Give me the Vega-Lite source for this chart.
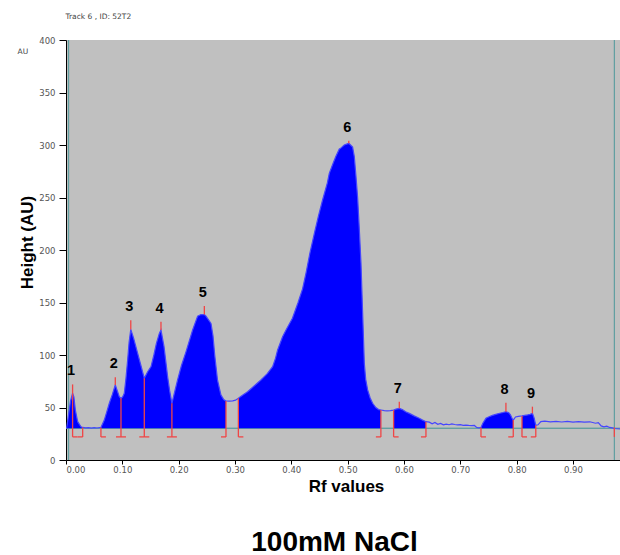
{
  "$schema": "https://vega.github.io/schema/vega-lite/v6.json",
  "width": 554,
  "height": 420,
  "autosize": {"type": "none"},
  "padding": {"left": 66, "top": 40, "right": 0, "bottom": 95},
  "background": "white",
  "config": {
    "view": {"fill": "#c0c0c0", "stroke": null},
    "axis": {"grid": false},
    "font": "Liberation Sans"
  },
  "datasets": {
    "trace": [
      {"rf": 0.001, "au": 30, "run": "A"},
      {"rf": 0.004, "au": 41, "run": "A"},
      {"rf": 0.008, "au": 56, "run": "A"},
      {"rf": 0.0117, "au": 63.5, "run": "A"},
      {"rf": 0.014, "au": 60, "run": "A"},
      {"rf": 0.0166, "au": 47.6, "run": "A"},
      {"rf": 0.0207, "au": 36.5, "run": "A"},
      {"rf": 0.0266, "au": 31.7, "run": "A"},
      {"rf": 0.0296, "au": 31, "run": "A"},
      {"rf": 0.035, "au": 30.6, "run": "gap"},
      {"rf": 0.04, "au": 30.9, "run": "gap"},
      {"rf": 0.045, "au": 30.4, "run": "gap"},
      {"rf": 0.05, "au": 30.8, "run": "gap"},
      {"rf": 0.055, "au": 30.5, "run": "gap"},
      {"rf": 0.062, "au": 31, "run": "B"},
      {"rf": 0.068, "au": 38, "run": "B"},
      {"rf": 0.0725, "au": 46, "run": "B"},
      {"rf": 0.0769, "au": 54, "run": "B"},
      {"rf": 0.082, "au": 62, "run": "B"},
      {"rf": 0.0875, "au": 71.4, "run": "B"},
      {"rf": 0.091, "au": 66, "run": "B"},
      {"rf": 0.0946, "au": 60.3, "run": "B"},
      {"rf": 0.0976, "au": 58.7, "run": "B"},
      {"rf": 0.1005, "au": 60, "run": "B"},
      {"rf": 0.1035, "au": 63.5, "run": "B"},
      {"rf": 0.1065, "au": 78, "run": "B"},
      {"rf": 0.1094, "au": 95, "run": "B"},
      {"rf": 0.112, "au": 112, "run": "B"},
      {"rf": 0.115, "au": 124.4, "run": "B"},
      {"rf": 0.12, "au": 116, "run": "B"},
      {"rf": 0.127, "au": 102, "run": "B"},
      {"rf": 0.133, "au": 90, "run": "B"},
      {"rf": 0.139, "au": 77.8, "run": "B"},
      {"rf": 0.145, "au": 84, "run": "B"},
      {"rf": 0.151, "au": 89, "run": "B"},
      {"rf": 0.156, "au": 100, "run": "B"},
      {"rf": 0.1605, "au": 111, "run": "B"},
      {"rf": 0.1657, "au": 120.6, "run": "B"},
      {"rf": 0.1686, "au": 123.8, "run": "B"},
      {"rf": 0.174, "au": 108, "run": "B"},
      {"rf": 0.1805, "au": 79, "run": "B"},
      {"rf": 0.184, "au": 66, "run": "B"},
      {"rf": 0.188, "au": 54, "run": "B"},
      {"rf": 0.193, "au": 65, "run": "B"},
      {"rf": 0.198, "au": 76, "run": "B"},
      {"rf": 0.205, "au": 90, "run": "B"},
      {"rf": 0.213, "au": 103, "run": "B"},
      {"rf": 0.2248, "au": 123.8, "run": "B"},
      {"rf": 0.2337, "au": 137, "run": "B"},
      {"rf": 0.2396, "au": 138.5, "run": "B"},
      {"rf": 0.2456, "au": 138.5, "run": "B"},
      {"rf": 0.2485, "au": 137, "run": "B"},
      {"rf": 0.2574, "au": 130, "run": "B"},
      {"rf": 0.261, "au": 118, "run": "B"},
      {"rf": 0.264, "au": 100, "run": "B"},
      {"rf": 0.269, "au": 76, "run": "B"},
      {"rf": 0.275, "au": 62, "run": "B"},
      {"rf": 0.28, "au": 57.5, "run": "B"},
      {"rf": 0.284, "au": 56.2, "run": "B"},
      {"rf": 0.29, "au": 56, "run": "gap"},
      {"rf": 0.296, "au": 56.3, "run": "gap"},
      {"rf": 0.301, "au": 57, "run": "gap"},
      {"rf": 0.306, "au": 58.8, "run": "C"},
      {"rf": 0.314, "au": 62, "run": "C"},
      {"rf": 0.3224, "au": 65, "run": "C"},
      {"rf": 0.334, "au": 70.5, "run": "C"},
      {"rf": 0.346, "au": 76.2, "run": "C"},
      {"rf": 0.357, "au": 82, "run": "C"},
      {"rf": 0.3668, "au": 88.9, "run": "C"},
      {"rf": 0.372, "au": 97, "run": "C"},
      {"rf": 0.3757, "au": 104.8, "run": "C"},
      {"rf": 0.3845, "au": 117.4, "run": "C"},
      {"rf": 0.3906, "au": 123.8, "run": "C"},
      {"rf": 0.402, "au": 135, "run": "C"},
      {"rf": 0.412, "au": 150, "run": "C"},
      {"rf": 0.42, "au": 163, "run": "C"},
      {"rf": 0.426, "au": 177.8, "run": "C"},
      {"rf": 0.433, "au": 197, "run": "C"},
      {"rf": 0.441, "au": 216, "run": "C"},
      {"rf": 0.448, "au": 232, "run": "C"},
      {"rf": 0.4555, "au": 247.6, "run": "C"},
      {"rf": 0.464, "au": 264, "run": "C"},
      {"rf": 0.4674, "au": 273, "run": "C"},
      {"rf": 0.473, "au": 281, "run": "C"},
      {"rf": 0.479, "au": 289, "run": "C"},
      {"rf": 0.485, "au": 296, "run": "C"},
      {"rf": 0.4888, "au": 297.5, "run": "C"},
      {"rf": 0.494, "au": 300, "run": "C"},
      {"rf": 0.502, "au": 301.6, "run": "C"},
      {"rf": 0.5088, "au": 298, "run": "C"},
      {"rf": 0.5118, "au": 289, "run": "C"},
      {"rf": 0.5148, "au": 270, "run": "C"},
      {"rf": 0.5177, "au": 250, "run": "C"},
      {"rf": 0.5207, "au": 220, "run": "C"},
      {"rf": 0.5237, "au": 187, "run": "C"},
      {"rf": 0.5266, "au": 140, "run": "C"},
      {"rf": 0.5296, "au": 92, "run": "C"},
      {"rf": 0.532, "au": 77, "run": "C"},
      {"rf": 0.5355, "au": 66.7, "run": "C"},
      {"rf": 0.54, "au": 59, "run": "C"},
      {"rf": 0.5444, "au": 54, "run": "C"},
      {"rf": 0.55, "au": 50, "run": "C"},
      {"rf": 0.555, "au": 48, "run": "C"},
      {"rf": 0.559, "au": 47.6, "run": "C"},
      {"rf": 0.565, "au": 47, "run": "gap"},
      {"rf": 0.57, "au": 46.8, "run": "gap"},
      {"rf": 0.576, "au": 47, "run": "gap"},
      {"rf": 0.5816, "au": 47.5, "run": "D"},
      {"rf": 0.586, "au": 48.5, "run": "D"},
      {"rf": 0.5917, "au": 49.2, "run": "D"},
      {"rf": 0.597, "au": 48, "run": "D"},
      {"rf": 0.603, "au": 46, "run": "D"},
      {"rf": 0.6095, "au": 44.4, "run": "D"},
      {"rf": 0.618, "au": 42, "run": "D"},
      {"rf": 0.627, "au": 39.7, "run": "D"},
      {"rf": 0.633, "au": 38, "run": "D"},
      {"rf": 0.639, "au": 36.5, "run": "D"},
      {"rf": 0.645, "au": 36, "run": "gap"},
      {"rf": 0.65, "au": 34.5, "run": "gap"},
      {"rf": 0.655, "au": 35.8, "run": "gap"},
      {"rf": 0.66, "au": 34, "run": "gap"},
      {"rf": 0.665, "au": 34.8, "run": "gap"},
      {"rf": 0.67, "au": 33.5, "run": "gap"},
      {"rf": 0.675, "au": 34.2, "run": "gap"},
      {"rf": 0.68, "au": 33.6, "run": "gap"},
      {"rf": 0.685, "au": 34.3, "run": "gap"},
      {"rf": 0.69, "au": 33.8, "run": "gap"},
      {"rf": 0.695, "au": 33.4, "run": "gap"},
      {"rf": 0.7, "au": 33.7, "run": "gap"},
      {"rf": 0.705, "au": 33, "run": "gap"},
      {"rf": 0.71, "au": 33.3, "run": "gap"},
      {"rf": 0.715, "au": 33, "run": "gap"},
      {"rf": 0.72, "au": 32.8, "run": "gap"},
      {"rf": 0.725, "au": 32.9, "run": "gap"},
      {"rf": 0.729, "au": 31, "run": "gap"},
      {"rf": 0.733, "au": 30.6, "run": "gap"},
      {"rf": 0.7367, "au": 31, "run": "E"},
      {"rf": 0.74, "au": 35, "run": "E"},
      {"rf": 0.7456, "au": 39.7, "run": "E"},
      {"rf": 0.752, "au": 41.5, "run": "E"},
      {"rf": 0.757, "au": 42.5, "run": "E"},
      {"rf": 0.763, "au": 43.5, "run": "E"},
      {"rf": 0.77, "au": 44.5, "run": "E"},
      {"rf": 0.776, "au": 45.2, "run": "E"},
      {"rf": 0.781, "au": 46, "run": "E"},
      {"rf": 0.786, "au": 45, "run": "E"},
      {"rf": 0.789, "au": 43, "run": "E"},
      {"rf": 0.7918, "au": 39.7, "run": "E"},
      {"rf": 0.794, "au": 38, "run": "E"},
      {"rf": 0.798, "au": 41, "run": "gap"},
      {"rf": 0.803, "au": 41.5, "run": "gap"},
      {"rf": 0.8095, "au": 42, "run": "F"},
      {"rf": 0.8145, "au": 42.5, "run": "F"},
      {"rf": 0.8195, "au": 42.9, "run": "F"},
      {"rf": 0.824, "au": 43.5, "run": "F"},
      {"rf": 0.828, "au": 44.4, "run": "F"},
      {"rf": 0.831, "au": 40, "run": "F"},
      {"rf": 0.834, "au": 33, "run": "F"},
      {"rf": 0.838, "au": 33.5, "run": "gap"},
      {"rf": 0.843, "au": 36.5, "run": "gap"},
      {"rf": 0.85, "au": 37, "run": "gap"},
      {"rf": 0.86, "au": 36.4, "run": "gap"},
      {"rf": 0.87, "au": 36.8, "run": "gap"},
      {"rf": 0.88, "au": 36.2, "run": "gap"},
      {"rf": 0.89, "au": 36.7, "run": "gap"},
      {"rf": 0.9, "au": 36, "run": "gap"},
      {"rf": 0.91, "au": 36.6, "run": "gap"},
      {"rf": 0.92, "au": 36.1, "run": "gap"},
      {"rf": 0.93, "au": 36.4, "run": "gap"},
      {"rf": 0.94, "au": 35, "run": "gap"},
      {"rf": 0.945, "au": 35.6, "run": "gap"},
      {"rf": 0.95, "au": 32.5, "run": "gap"},
      {"rf": 0.955, "au": 31.6, "run": "gap"},
      {"rf": 0.96, "au": 32.2, "run": "gap"},
      {"rf": 0.965, "au": 31, "run": "gap"},
      {"rf": 0.97, "au": 30.6, "run": "gap"},
      {"rf": 0.9735, "au": 30, "run": "gap"},
      {"rf": 0.9835, "au": 29.5, "run": "gap"}
    ],
    "peaks": [
      {"peak": "1", "rf": 0.0117, "au": 63.5, "mark": 72},
      {"peak": "2", "rf": 0.0875, "au": 71.4, "mark": 78.8},
      {"peak": "3", "rf": 0.115, "au": 124.4, "mark": 133},
      {"peak": "4", "rf": 0.1686, "au": 123.8, "mark": 131.7},
      {"peak": "5", "rf": 0.2456, "au": 138.5, "mark": 146.7},
      {"peak": "6", "rf": 0.502, "au": 301.6, "mark": 304},
      {"peak": "7", "rf": 0.5917, "au": 49.2, "mark": 55.5},
      {"peak": "8", "rf": 0.781, "au": 46, "mark": 54.6},
      {"peak": "9", "rf": 0.828, "au": 44.4, "mark": 50.8}
    ],
    "bounds": [
      {"rf": 0.0117, "top": 63.5, "side": "L"},
      {"rf": 0.0296, "top": 31, "side": "R"},
      {"rf": 0.062, "top": 31, "side": "L"},
      {"rf": 0.0976, "top": 58.7, "side": "B"},
      {"rf": 0.139, "top": 77.8, "side": "B"},
      {"rf": 0.188, "top": 54, "side": "B"},
      {"rf": 0.284, "top": 56.2, "side": "R"},
      {"rf": 0.306, "top": 58.8, "side": "L"},
      {"rf": 0.559, "top": 47.6, "side": "R"},
      {"rf": 0.5816, "top": 47.5, "side": "L"},
      {"rf": 0.639, "top": 36.5, "side": "R"},
      {"rf": 0.7367, "top": 31, "side": "L"},
      {"rf": 0.794, "top": 38, "side": "R"},
      {"rf": 0.8095, "top": 42, "side": "L"},
      {"rf": 0.834, "top": 33, "side": "R"},
      {"rf": 0.9735, "top": 31, "side": "N"}
    ],
    "limits": [{"rf": 0.0045}, {"rf": 0.9735}]
  },
  "resolve": {"axis": {"x": "independent", "y": "independent"}},
  "layer": [
    {
      "data": {"name": "limits"},
      "mark": {"type": "rule", "color": "#5f9ea0", "strokeWidth": 1.2},
      "encoding": {
        "x": {"field": "rf", "type": "quantitative", "scale": {"domain": [0, 0.9835], "nice": false, "zero": false}, "axis": null}
      }
    },
    {
      "data": {"name": "limits"},
      "mark": {"type": "rule", "color": "#5f9ea0", "strokeWidth": 1},
      "encoding": {
        "y": {"datum": 30.2, "type": "quantitative", "scale": {"domain": [0, 400], "nice": false}, "axis": null}
      }
    },
    {
      "data": {"name": "trace"},
      "transform": [{"filter": "datum.run !== 'gap'"}],
      "mark": {"type": "area", "color": "#0000ff", "opacity": 1},
      "encoding": {
        "x": {
          "field": "rf", "type": "quantitative",
          "scale": {"domain": [0, 0.9835], "nice": false, "zero": false},
          "axis": {
            "orient": "bottom",
            "values": [0, 0.1, 0.2, 0.3, 0.4, 0.5, 0.6, 0.7, 0.8, 0.9],
            "format": ".2f",
            "labelFontSize": 8.5, "labelColor": "#555", "labelFont": "DejaVu Sans",
            "labelPadding": 1, "tickSize": 4, "tickColor": "#000", "domainColor": "#000",
            "title": "Rf values", "titleFontSize": 17, "titleFontWeight": "bold", "titleColor": "#000",
            "titleFont": "Liberation Sans", "titleX": 280, "titleY": 31,
            "titleBaseline": "alphabetic", "titleAlign": "center"
          }
        },
        "y": {
          "field": "au", "type": "quantitative",
          "scale": {"domain": [0, 400], "nice": false},
          "axis": {
            "orient": "left",
            "values": [0, 50, 100, 150, 200, 250, 300, 350, 400],
            "labelFontSize": 8.5, "labelColor": "#555", "labelFont": "DejaVu Sans",
            "labelPadding": 4, "tickSize": 7, "tickColor": "#000", "domainColor": "#000",
            "title": "Height (AU)", "titleFontSize": 17, "titleFontWeight": "bold", "titleColor": "#000",
            "titleFont": "Liberation Sans", "titleX": -34, "titleY": 202, "titleAngle": -90,
            "titleBaseline": "alphabetic", "titleAlign": "center"
          }
        },
        "y2": {"datum": 30.2},
        "detail": {"field": "run"}
      }
    },
    {
      "data": {"name": "trace"},
      "mark": {"type": "line", "color": "#4545ff", "strokeWidth": 1.2},
      "encoding": {
        "x": {
          "field": "rf", "type": "quantitative",
          "scale": {"domain": [0, 0.9835], "nice": false, "zero": false},
          "axis": {
            "orient": "top", "labels": false, "ticks": false, "domain": false,
            "title": "Track 6 , ID: 52T2", "titleFontSize": 7.5, "titleFontWeight": "normal",
            "titleColor": "#444", "titleFont": "DejaVu Sans", "titleX": -1, "titleY": -22,
            "titleAlign": "left", "titleBaseline": "alphabetic"
          }
        },
        "y": {
          "field": "au", "type": "quantitative",
          "scale": {"domain": [0, 400], "nice": false},
          "axis": {
            "orient": "left", "labels": false, "ticks": false, "domain": false,
            "title": "AU", "titleFontSize": 7.5, "titleFontWeight": "normal",
            "titleColor": "#444", "titleFont": "DejaVu Sans", "titleAngle": 0,
            "titleX": -49, "titleY": 13.5, "titleAlign": "left", "titleBaseline": "alphabetic"
          }
        },
        "order": {"field": "rf", "type": "quantitative"}
      }
    },
    {
      "data": {"name": "bounds"},
      "mark": {"type": "rule", "color": "#f04545", "strokeWidth": 1.3},
      "encoding": {
        "x": {"field": "rf", "type": "quantitative", "axis": null},
        "y": {"field": "top", "type": "quantitative", "axis": null},
        "y2": {"datum": 22}
      }
    },
    {
      "data": {"name": "bounds"},
      "transform": [{"filter": "datum.side === 'L' || datum.side === 'B'"}],
      "mark": {"type": "rule", "color": "#f04545", "strokeWidth": 1.3, "x2Offset": 5},
      "encoding": {
        "x": {"field": "rf", "type": "quantitative", "axis": null},
        "x2": {"field": "rf"},
        "y": {"datum": 22, "type": "quantitative", "axis": null}
      }
    },
    {
      "data": {"name": "bounds"},
      "transform": [{"filter": "datum.side === 'R' || datum.side === 'B'"}],
      "mark": {"type": "rule", "color": "#f04545", "strokeWidth": 1.3, "x2Offset": -5},
      "encoding": {
        "x": {"field": "rf", "type": "quantitative", "axis": null},
        "x2": {"field": "rf"},
        "y": {"datum": 22, "type": "quantitative", "axis": null}
      }
    },
    {
      "data": {"name": "peaks"},
      "mark": {"type": "rule", "color": "#f04545", "strokeWidth": 1.3},
      "encoding": {
        "x": {"field": "rf", "type": "quantitative", "axis": null},
        "y": {"field": "au", "type": "quantitative", "axis": null},
        "y2": {"field": "mark"}
      }
    },
    {
      "data": {"name": "peaks"},
      "mark": {"type": "text", "font": "Liberation Sans", "fontWeight": "bold", "fontSize": 14.5, "color": "#000", "baseline": "alphabetic", "align": "center", "dy": -9, "dx": -1.5},
      "encoding": {
        "x": {
          "field": "rf", "type": "quantitative",
          "axis": {
            "orient": "bottom", "labels": false, "ticks": false, "domain": false,
            "title": "100mM NaCl", "titleFontSize": 28, "titleFontWeight": "bold",
            "titleColor": "#000", "titleFont": "Liberation Sans", "titleX": 268, "titleY": 90,
            "titleAlign": "center", "titleBaseline": "alphabetic"
          }
        },
        "y": {"field": "mark", "type": "quantitative", "axis": null},
        "text": {"field": "peak"}
      }
    }
  ]
}
